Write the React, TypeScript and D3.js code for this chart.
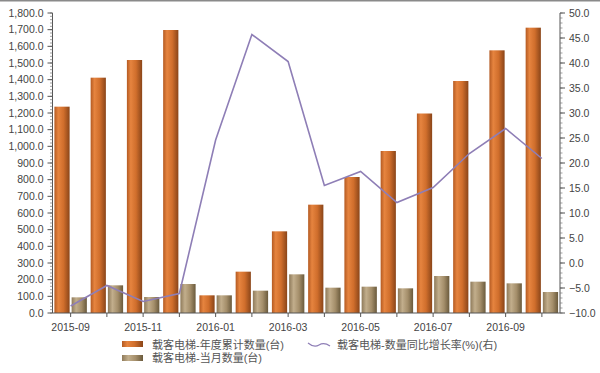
import React from "react";
import * as d3 from "d3";

const categories = ["2015-09","2015-10","2015-11","2015-12","2016-01","2016-02","2016-03","2016-04","2016-05","2016-06","2016-07","2016-08","2016-09","2016-10"];
const cumulative = [1238, 1412, 1518, 1698, 106, 248, 490, 650, 816, 972, 1197, 1392, 1576, 1712];
const monthly = [94, 166, 96, 174, 106, 134, 232, 152, 158, 148, 222, 188, 178, 126];
const growth = [-8.6, -4.5, -7.7, -6.1, 24.6, 45.7, 40.3, 15.5, 18.3, 12.1, 15.1, 21.9, 26.9, 20.9];
const leftTicks = d3.range(0, 1801, 100);
const rightTicks = d3.range(-10, 50.1, 5);
const seriesNames = ["载客电梯-年度累计数量(台)", "载客电梯-当月数量(台)", "载客电梯-数量同比增长率(%)(右)"];

const W = 600, H = 373;
const left = 52.5, right = 560, top = 13, bottom = 313;
const FONT = "'Liberation Sans', Arial, 'Noto Sans CJK SC', sans-serif";

export default function App() {
  const x = d3.scaleBand<string>().domain(categories).range([left, right]).padding(0);
  const yL = d3.scaleLinear().domain([0, 1800]).range([bottom, top]);
  const yR = d3.scaleLinear().domain([-10, 50]).range([bottom, top]);
  const bw = x.bandwidth();
  const barW = bw * 0.42;
  const line = d3.line<number>().x((_, i) => x(categories[i])! + bw / 2).y(d => yR(d));
  const minorL = d3.range(0, 1801, 20);
  const minorR = d3.range(-10, 50.1, 1);

  return (
    <div style={{ position: "absolute", left: 0, top: 0 }}>
      <svg width={W} height={H} style={{ display: "block", fontFamily: FONT }}>
        <defs>
          <linearGradient id="gO" x1="0" x2="1" y1="0" y2="0">
            <stop offset="0" stopColor="#b45a22" />
            <stop offset="0.25" stopColor="#e6843f" />
            <stop offset="0.6" stopColor="#d06e2c" />
            <stop offset="1" stopColor="#8a4519" />
          </linearGradient>
          <linearGradient id="gT" x1="0" x2="1" y1="0" y2="0">
            <stop offset="0" stopColor="#8e7a5a" />
            <stop offset="0.3" stopColor="#c2ae8c" />
            <stop offset="0.65" stopColor="#a48e6a" />
            <stop offset="1" stopColor="#6a5a3c" />
          </linearGradient>
        </defs>
        <rect x={0} y={0} width={W} height={H} fill="#fff" />
        <line x1={0} x2={W} y1={0.75} y2={0.75} stroke="#8a8a8a" strokeWidth={1.5} />

        {categories.map((c, i) => {
          const cx = x(c)! + bw / 2;
          return (
            <g key={c}>
              <rect x={cx - 1 - barW} y={yL(cumulative[i])} width={barW} height={bottom - yL(cumulative[i])} fill="url(#gO)" />
              <rect x={cx + 1} y={yL(monthly[i])} width={barW} height={bottom - yL(monthly[i])} fill="url(#gT)" />
            </g>
          );
        })}

        <path d={line(growth)!} fill="none" stroke="#8e7eb6" strokeWidth={1.6} />

        {/* left axis */}
        <line x1={left} x2={left} y1={top} y2={bottom} stroke="#555" />
        {minorL.map(v => (
          <line key={"ml" + v} x1={left - 2.5} x2={left} y1={yL(v)} y2={yL(v)} stroke="#777" strokeWidth={0.7} />
        ))}
        {leftTicks.map(v => (
          <g key={"l" + v}>
            <line x1={left - 5} x2={left} y1={yL(v)} y2={yL(v)} stroke="#555" />
            <text x={left - 9} y={yL(v)} dy="0.35em" textAnchor="end" fontSize={10.5} fill="#444">{d3.format(",.1f")(v)}</text>
          </g>
        ))}

        {/* right axis */}
        <line x1={right} x2={right} y1={top} y2={bottom} stroke="#555" />
        {minorR.map(v => (
          <line key={"mr" + v} x1={right} x2={right + 2.5} y1={yR(v)} y2={yR(v)} stroke="#777" strokeWidth={0.7} />
        ))}
        {rightTicks.map(v => (
          <g key={"r" + v}>
            <line x1={right} x2={right + 5} y1={yR(v)} y2={yR(v)} stroke="#555" />
            <text x={right + 9} y={yR(v)} dy="0.35em" textAnchor="start" fontSize={10.5} fill="#444">{d3.format(".1f")(v)}</text>
          </g>
        ))}

        {/* x axis */}
        <line x1={left} x2={right} y1={bottom} y2={bottom} stroke="#555" />
        {categories.map((c, i) => {
          const cx = x(c)! + bw / 2;
          return (
            <g key={"x" + c}>
              <line x1={cx} x2={cx} y1={bottom} y2={bottom + 4} stroke="#555" />
              {i % 2 === 0 && (
                <text x={cx} y={327} dy="0.35em" textAnchor="middle" fontSize={10.5} fill="#444">{c}</text>
              )}
            </g>
          );
        })}

        {/* legend */}
        <rect x={122} y={341} width={21} height={6} fill="url(#gO)" />
        <text x={152} y={345} dy="0.35em" fontSize={11} fill="#555">{seriesNames[0]}</text>
        <rect x={122} y={355} width={21} height={6} fill="url(#gT)" />
        <text x={152} y={358} dy="0.35em" fontSize={11} fill="#555">{seriesNames[1]}</text>
        <path d="M308,343 Q314,348 319,345 Q324,342 330,346" fill="none" stroke="#8e7eb6" strokeWidth={1.2} />
        <text x={337} y={345} dy="0.35em" fontSize={11} fill="#555">{seriesNames[2]}</text>
      </svg>
    </div>
  );
}
